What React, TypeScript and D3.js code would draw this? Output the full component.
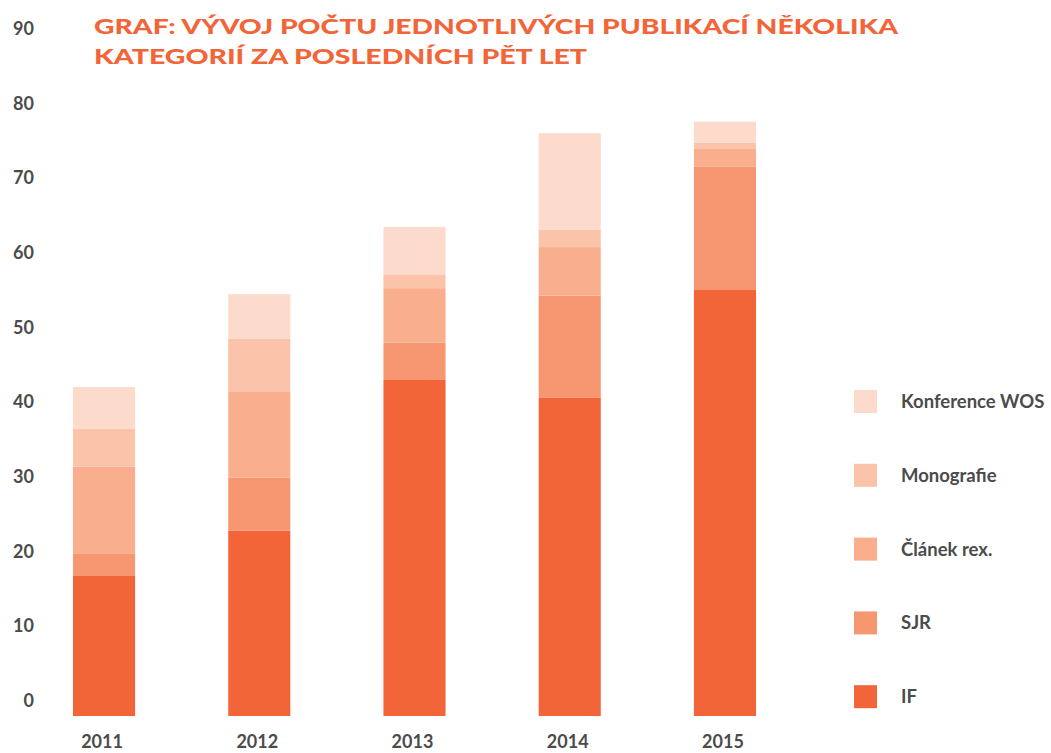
import React from "react";
import * as d3 from "d3";

const years = ["2011", "2012", "2013", "2014", "2015"];
const seriesNames = ["IF", "SJR", "Článek rex.", "Monografie", "Konference WOS"];
const ifValues = [18.75, 24.8, 45.0, 42.6, 57.05];
const sjrValues = [2.95, 7.1, 5.0, 13.7, 16.5];
const clanekValues = [11.7, 11.5, 7.3, 6.5, 2.4];
const monografieValues = [5.05, 7.1, 1.85, 2.3, 0.8];
const konferenceValues = [5.6, 6.0, 6.35, 12.95, 2.85];
const colors = ["#F26539", "#F69772", "#F9AF8E", "#FBC3A9", "#FDDBCC"];
const yTicks = [0, 10, 20, 30, 40, 50, 60, 70, 80, 90];
const titleLines = [
  "GRAF: VÝVOJ POČTU JEDNOTLIVÝCH PUBLIKACÍ NĚKOLIKA",
  "KATEGORIÍ ZA POSLEDNÍCH PĚT LET",
];

const W = 1051;
const H = 753;

export default function App() {
  const series = [ifValues, sjrValues, clanekValues, monografieValues, konferenceValues];
  const rows = years.map((y, i) => {
    const r: any = { year: y };
    seriesNames.forEach((s, k) => (r[s] = series[k][i]));
    return r;
  });
  const stack = d3.stack<any>().keys(seriesNames)(rows);

  const x = d3.scaleBand<string>().domain(years).range([73, 756]).paddingInner(0.6).paddingOuter(0);
  const y = d3.scaleLinear().domain([0, 90]).range([716, 44]);

  const textColor = "#4B4B4B";
  const font = "Lato, 'Open Sans', sans-serif";

  const legendY = (i: number) => y(10 * (4 - i)) - 14; // top of legend squares aligned to tick rows
  const legendOrder = [4, 3, 2, 1, 0];

  return (
    <svg width={W} height={H} style={{ position: "absolute", left: 0, top: 0, background: "#fff" }} fontFamily={font}>
      {titleLines.map((t, i) => (
        <text
          key={i}
          x={94}
          y={34 + i * 30}
          fill="#F26539"
          fontSize={20.5}
          fontWeight={900}
          textLength={i === 0 ? 804 : 493}
          lengthAdjust="spacingAndGlyphs"
        >
          {t}
        </text>
      ))}
      {yTicks.map((v) => (
        <text key={v} x={34} y={y(v) - 9} textAnchor="end" fill={textColor} fontSize={18} fontWeight={700}>
          {v}
        </text>
      ))}
      {stack.map((layer, k) => (
        <g key={layer.key} fill={colors[k]}>
          {layer.map((d, i) => (
            <rect
              key={i}
              x={x(years[i])}
              width={x.bandwidth()}
              y={y(d[1])}
              height={y(d[0]) - y(d[1])}
            />
          ))}
        </g>
      ))}
      {years.map((yr) => (
        <text
          key={yr}
          x={(x(yr) as number) + x.bandwidth() / 2 - 2}
          y={748}
          textAnchor="middle"
          fill={textColor}
          fontSize={18}
          fontWeight={700}
        >
          {yr}
        </text>
      ))}
      {legendOrder.map((k, i) => {
        const top = 390 + i * 73.8;
        return (
          <g key={k}>
            <rect x={854} y={top} width={23} height={23} fill={colors[k]} />
            <text x={901} y={top + 18} fill={textColor} fontSize={18.5} fontWeight={700}>
              {seriesNames[k]}
            </text>
          </g>
        );
      })}
    </svg>
  );
}
